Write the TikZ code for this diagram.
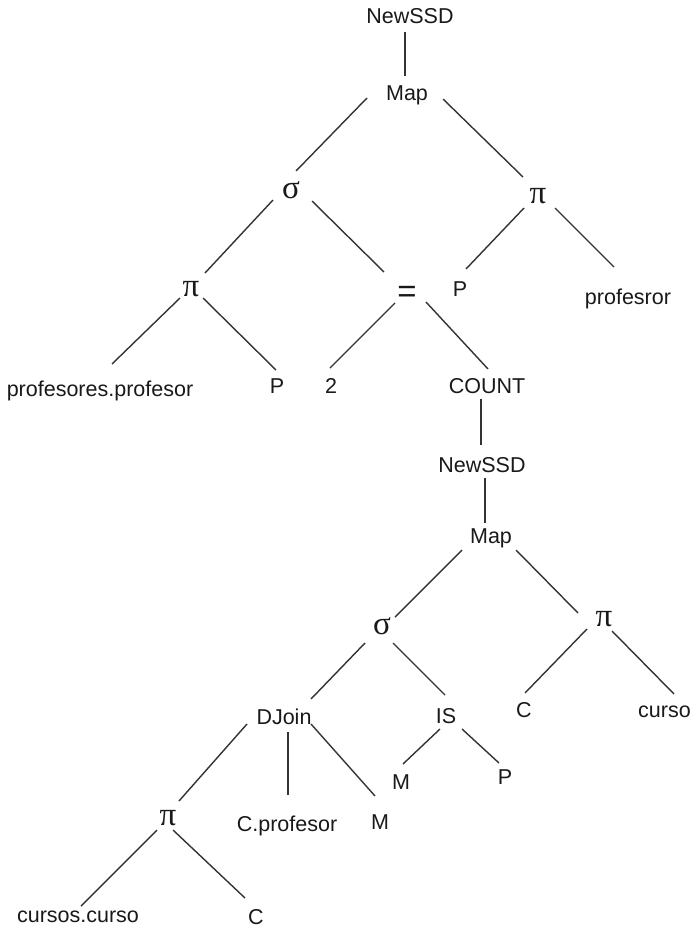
\documentclass[tikz,border=0pt]{standalone}
\usepackage{fontspec}
\setmainfont{Liberation Sans}
\newfontfamily\greekfont{Liberation Serif}
\begin{document}
\begin{tikzpicture}[x=1pt,y=-1pt,
  lbl/.style={anchor=base,inner sep=0pt,text=black!90,font=\fontsize{21.5}{24}\selectfont},
  grk/.style={anchor=base,inner sep=0pt,text=black!90,font=\greekfont\fontsize{33}{34}\selectfont},
  eqs/.style={anchor=base,inner sep=0pt,text=black!90,font=\fontsize{33}{34}\selectfont},
  edge/.style={line width=1.4pt,black!80}]
\useasboundingbox (0,0) rectangle (692,929);

% ---- outer query tree ----
\node[lbl] (t0)  at (410,23)  {NewSSD};
\node[lbl] (m0)  at (407,100) {Map};
\node[grk] (s0)  at (291,198) {σ};
\node[grk] (p0)  at (538,203) {π};
\node[grk] (p1)  at (191,296) {π};
\node[eqs] (eq)  at (407,302) {=};
\node[lbl] (pa)  at (460,296) {P};
\node[lbl] (pr)  at (628,304) {profesror};
\node[lbl] (pp)  at (100,396) {profesores.profesor};
\node[lbl] (pb)  at (277,393) {P};
\node[lbl] (two) at (331,393) {2};
\node[lbl] (cnt) at (487,393) {COUNT};

% ---- nested subquery ----
\node[lbl] (t1)  at (482,472) {NewSSD};
\node[lbl] (m1)  at (491,543) {Map};
\node[grk] (s1)  at (382,634) {σ};
\node[grk] (p2)  at (604,626) {π};
\node[lbl] (dj)  at (284,724) {DJoin};
\node[lbl] (is)  at (446,723) {IS};
\node[lbl] (c1)  at (524,717) {C};
\node[lbl,anchor=base east] (cu) at (691,717) {curso};
\node[lbl] (m2)  at (401,789) {M};
\node[lbl] (pc)  at (505,784) {P};
\node[grk] (p3)  at (168,825) {π};
\node[lbl] (cp)  at (287,831) {C.profesor};
\node[lbl] (m3)  at (380,829) {M};
\node[lbl] (cc)  at (78,922)  {cursos.curso};
\node[lbl] (c2)  at (256,924) {C};

% ---- connectors ----
\draw[edge] ([shift={(-5,9)}]t0.base)   -- ([shift={(-2,-24)}]m0.base);
\draw[edge] ([shift={(-40,-2)}]m0.base) -- ([shift={(5,-27)}]s0.base);
\draw[edge] ([shift={(36,-1)}]m0.base)  -- ([shift={(-15,-26)}]p0.base);
\draw[edge] ([shift={(-18,2)}]s0.base)  -- ([shift={(14,-23)}]p1.base);
\draw[edge] ([shift={(21,3)}]s0.base)   -- ([shift={(-23,-30)}]eq.base);
\draw[edge] ([shift={(-14,5)}]p0.base)  -- ([shift={(6,-27)}]pa.base);
\draw[edge] ([shift={(17,5)}]p0.base)   -- ([shift={(-14,-37)}]pr.base);
\draw[edge] ([shift={(-11,2)}]p1.base)  -- ([shift={(12,-32)}]pp.base);
\draw[edge] ([shift={(12,2)}]p1.base)   -- ([shift={(-1,-23)}]pb.base);
\draw[edge] ([shift={(-12,1)}]eq.base)  -- ([shift={(-1,-25)}]two.base);
\draw[edge] ([shift={(19,0)}]eq.base)   -- ([shift={(1,-24)}]cnt.base);
\draw[edge] ([shift={(-6,6)}]cnt.base)  -- ([shift={(-1,-27)}]t1.base);
\draw[edge] ([shift={(3,6)}]t1.base)    -- ([shift={(-6,-20)}]m1.base);
\draw[edge] ([shift={(-29,7)}]m1.base)  -- ([shift={(13,-17)}]s1.base);
\draw[edge] ([shift={(25,7)}]m1.base)   -- ([shift={(-26,-13)}]p2.base);
\draw[edge] ([shift={(-17,9)}]s1.base)  -- ([shift={(27,-25)}]dj.base);
\draw[edge] ([shift={(11,9)}]s1.base)   -- ([shift={(-1,-28)}]is.base);
\draw[edge] ([shift={(-17,3)}]p2.base)  -- ([shift={(1,-24)}]c1.base);
\draw[edge] ([shift={(8,5)}]p2.base)    -- ([shift={(-17,-23)}]cu.base east);
\draw[edge] ([shift={(-6,6)}]is.base)   -- ([shift={(2,-25)}]m2.base);
\draw[edge] ([shift={(16,6)}]is.base)   -- ([shift={(-6,-21)}]pc.base);
\draw[edge] ([shift={(-37,0)}]dj.base)  -- ([shift={(11,-24)}]p3.base);
\draw[edge] ([shift={(4,8)}]dj.base)    -- ([shift={(1,-36)}]cp.base);
\draw[edge] ([shift={(27,0)}]dj.base)   -- ([shift={(-5,-33)}]m3.base);
\draw[edge] ([shift={(-11,5)}]p3.base)  -- ([shift={(3,-16)}]cc.base);
\draw[edge] ([shift={(5,5)}]p3.base)    -- ([shift={(-11,-26)}]c2.base);
\end{tikzpicture}
\end{document}
